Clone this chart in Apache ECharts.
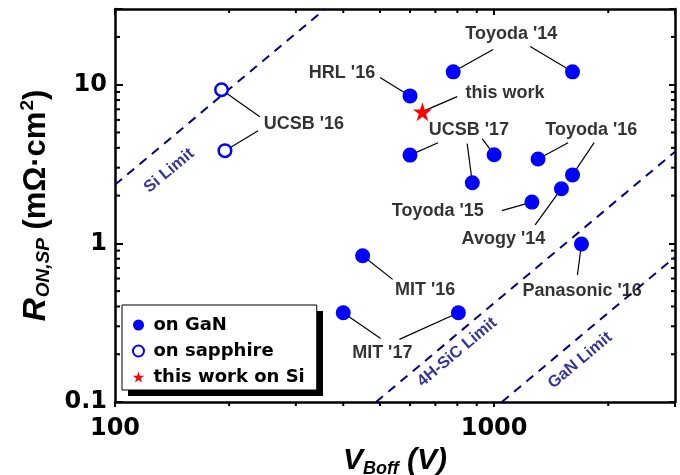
<!DOCTYPE html>
<html>
<head>
<meta charset="utf-8">
<script src="https://cdn.jsdelivr.net/npm/echarts@6/dist/echarts.min.js"></script>
<style>
  html, body { margin: 0; padding: 0; background: #fff; }
  #chart { width: 680px; height: 475px; }
</style>
</head>
<body>
<div id="chart"></div>
<script>
// points on GaN: HRL'16, Toyoda'14 x2, UCSB'17 x3, Toyoda'16 x2, Avogy'14, Toyoda'15, Panasonic'16, MIT'16, MIT'17 x2
const ganV = [600, 780, 1610, 600, 1000, 876, 1306, 1610, 1505, 1258, 1700, 450, 400, 805];
const ganR = [8.5, 12.05, 12.05, 3.6, 3.62, 2.41, 3.4, 2.7, 2.21, 1.82, 0.99, 0.836, 0.365, 0.365];
// UCSB'16 on sapphire
const sapV = [191, 195];
const sapR = [9.3, 3.84];
// this work
const workV = [647];
const workR = [6.76];

// limit lines (end points)
const siV = [100, 358], siR = [2.34, 30];
const sicV = [488, 3000], sicR = [0.1, 3.78];
const ganLimV = [1048, 3000], ganLimR = [0.1, 0.82];
const limitText = ['Si Limit', '4H-SiC Limit', 'GaN Limit'];
const limitLabelV = [139, 799, 1686];
const limitLabelR = [2.87, 0.206, 0.183];

// text labels
const labelText = ["HRL '16", "UCSB '16", "Toyoda '14", "this work", "UCSB '17", "Toyoda '16", "Toyoda '15", "Avogy '14", "MIT '16", "Panasonic '16", "MIT '17"];
const labelV = [397, 315, 1110, 1068, 858, 1805, 710, 1058, 658, 1707, 507];
const labelR = [11.9, 5.64, 20.9, 8.88, 5.21, 5.21, 1.6, 1.07, 0.51, 0.5, 0.203];

// leader lines: start point (series, index) -> end near label
const leadFrom = [['gan', 0], ['sap', 0], ['sap', 1], ['gan', 1], ['gan', 2], ['work', 0], ['gan', 3], ['gan', 5], ['gan', 4], ['gan', 6], ['gan', 7], ['gan', 9], ['gan', 8], ['gan', 10], ['gan', 11], ['gan', 12], ['gan', 13]];
const leadEndV = [500, 241, 238.5, 994, 1245, 799, 711.5, 849, 930, 1567, 1836, 1048, 1283, 1659, 540, 502, 562.5];
const leadEndR = [11.09, 6.29, 5.13, 16.66, 17.4, 8.41, 4.31, 4.25, 4.57, 4.31, 4.31, 1.609, 1.307, 0.632, 0.593, 0.2515, 0.248];

// axes
const xMin = 100, xMax = 3000, yMin = 0.1, yMax = 30;
const xTickVals = [100, 1000], xTickLabels = ['100', '1000'];
const yTickVals = [0.1, 1, 10], yTickLabels = ['0.1', '1', '10'];
const xMinor = [200, 300, 400, 500, 600, 700, 800, 900, 2000];
const yMinor = [0.2, 0.3, 0.4, 0.5, 0.6, 0.7, 0.8, 0.9, 2, 3, 4, 5, 6, 7, 8, 9, 20];

const pts = { gan: [ganV, ganR], sap: [sapV, sapR], work: [workV, workR] };
const zip = (a, b) => a.map((v, i) => [v, b[i]]);
const pickLabel = (vals, labels) => v => {
  const i = vals.findIndex(t => Math.abs(v / t - 1) < 1e-6);
  return i >= 0 ? labels[i] : '';
};

const ARIAL = 'Liberation Sans, Arial, sans-serif';
const DEJAVU = 'DejaVu Sans, sans-serif';
const BLUE = '#0000ff';
const NAVY = '#000080';
const STAR = 'path://M50,0 L61.23,34.55 L97.55,34.55 L68.17,55.9 L79.39,90.45 L50,69.1 L20.61,90.45 L31.83,55.9 L2.45,34.55 L38.77,34.55 Z';

const myChart = echarts.init(document.getElementById('chart'));

const limitLine = (v, r) => ({
  type: 'line',
  data: zip(v, r),
  symbol: 'none',
  silent: true,
  z: 1,
  lineStyle: { color: NAVY, width: 2, type: [9, 7] }
});

const leaders = leadFrom.map((f, i) => {
  const s = pts[f[0]];
  return {
    type: 'line',
    data: [[s[0][f[1]], s[1][f[1]]], [leadEndV[i], leadEndR[i]]],
    symbol: 'none',
    silent: true,
    z: 2,
    lineStyle: { color: '#000', width: 1.2 }
  };
});

const tickSeries = (vals, isX) => ({
  type: 'custom',
  silent: true,
  z: 10,
  data: vals.map(v => isX ? [v, yMin] : [xMin, v]),
  renderItem: (params, api) => {
    const a = isX ? api.coord([api.value(0), yMin]) : api.coord([xMin, api.value(1)]);
    const b = isX ? api.coord([api.value(0), yMax]) : api.coord([xMax, api.value(1)]);
    const st = { stroke: '#000', lineWidth: 2 };
    return {
      type: 'group',
      children: isX ? [
        { type: 'line', shape: { x1: a[0], y1: a[1], x2: a[0], y2: a[1] + 4 }, style: st },
        { type: 'line', shape: { x1: b[0], y1: b[1], x2: b[0], y2: b[1] + 4 }, style: st }
      ] : [
        { type: 'line', shape: { x1: a[0], y1: a[1], x2: a[0] + 5, y2: a[1] }, style: st },
        { type: 'line', shape: { x1: b[0], y1: b[1], x2: b[0] - 4, y2: b[1] }, style: st }
      ]
    };
  }
});

let option = {
  animation: false,
  textStyle: { fontFamily: ARIAL },
  grid: { left: 115, right: 5, top: 9, bottom: 73, outerBoundsMode: 'none' },
  // drop shadow behind the legend box
  graphic: [{
    type: 'rect',
    z: 3,
    silent: true,
    shape: { x: 128, y: 311, width: 195, height: 85 },
    style: { fill: '#000' }
  }],
  legend: {
    data: [
      { name: 'on GaN' },
      { name: 'on sapphire', itemStyle: { color: '#fff', borderColor: BLUE, borderWidth: 2 } },
      { name: 'this work on Si' }
    ],
    orient: 'vertical',
    left: 122,
    top: 305,
    z: 4,
    itemWidth: 20,
    itemHeight: 11,
    itemGap: 8,
    padding: [11, 12, 4, 10],
    backgroundColor: '#fff',
    borderColor: '#000',
    borderWidth: 1,
    textStyle: { fontFamily: DEJAVU, fontWeight: 'bold', fontSize: 18, color: '#000', lineHeight: 18 }
  },
  xAxis: [{
    type: 'log',
    min: xMin,
    max: xMax,
    name: '{v|V}{s|Boff}{v| (V)}',
    nameLocation: 'middle',
    nameGap: 37,
    nameTextStyle: {
      rich: {
        v: { fontFamily: ARIAL, fontSize: 30, fontWeight: 'bold', fontStyle: 'italic', color: '#000' },
        s: { fontFamily: ARIAL, fontSize: 18, fontWeight: 'bold', fontStyle: 'italic', color: '#000', padding: [16, 0, 0, 0] }
      }
    },
    axisLine: { lineStyle: { color: '#000', width: 2.5 } },
    axisTick: { inside: false, length: 5, lineStyle: { width: 2 } },
    axisLabel: {
      margin: 15,
      fontFamily: DEJAVU, fontWeight: 'bold', fontSize: 24, color: '#000',
      formatter: pickLabel(xTickVals, xTickLabels)
    },
    splitLine: { show: false }
  }, {
    type: 'log',
    position: 'top',
    min: xMin,
    max: xMax,
    axisLine: { lineStyle: { color: '#000', width: 2.5 } },
    axisTick: { inside: true, length: 6, lineStyle: { width: 2 } },
    axisLabel: { show: false },
    splitLine: { show: false }
  }],
  yAxis: [{
    type: 'log',
    min: yMin,
    max: yMax,
    name: '{r|R}{rs|ON,SP}{u| (mΩ·cm}{sup|2}{u|)}',
    nameLocation: 'middle',
    nameRotate: 90,
    nameGap: 56,
    nameTextStyle: {
      rich: {
        r: { fontFamily: ARIAL, fontSize: 32, fontWeight: 'bold', fontStyle: 'italic', color: '#000' },
        rs: { fontFamily: ARIAL, fontSize: 19, fontWeight: 'bold', fontStyle: 'italic', color: '#000', padding: [15, 0, 0, 1] },
        u: { fontFamily: ARIAL, fontSize: 31, fontWeight: 'bold', color: '#000' },
        sup: { fontFamily: ARIAL, fontSize: 19, fontWeight: 'bold', color: '#000', padding: [0, 0, 17, 1] }
      }
    },
    axisLine: { lineStyle: { color: '#000', width: 2.5 } },
    axisTick: { inside: true, length: 8, lineStyle: { width: 2 } },
    axisLabel: {
      margin: 8,
      fontFamily: DEJAVU, fontWeight: 'bold', fontSize: 24, color: '#000',
      formatter: pickLabel(yTickVals, yTickLabels)
    },
    splitLine: { show: false }
  }, {
    type: 'log',
    position: 'right',
    min: yMin,
    max: yMax,
    axisLine: { lineStyle: { color: '#000', width: 2.5 } },
    axisTick: { inside: true, length: 6, lineStyle: { width: 2 } },
    axisLabel: { show: false },
    splitLine: { show: false }
  }],
  series: [
    limitLine(siV, siR),
    limitLine(sicV, sicR),
    limitLine(ganLimV, ganLimR),
    ...leaders,
    tickSeries(xMinor, true),
    tickSeries(yMinor, false),
    {
      name: 'on GaN',
      type: 'scatter',
      data: zip(ganV, ganR),
      symbol: 'circle',
      symbolSize: 15,
      z: 5,
      itemStyle: { color: BLUE, opacity: 1 }
    },
    {
      name: 'on sapphire',
      type: 'scatter',
      data: zip(sapV, sapR),
      symbol: 'circle',
      symbolSize: 12.5,
      z: 5,
      itemStyle: { color: '#fff', borderColor: BLUE, borderWidth: 2.5, opacity: 1 }
    },
    {
      name: 'this work on Si',
      type: 'scatter',
      data: zip(workV, workR),
      symbol: STAR,
      symbolSize: 19,
      z: 6,
      itemStyle: { color: '#ff0000', opacity: 1 }
    },
    {
      type: 'scatter',
      silent: true,
      symbolSize: 1,
      z: 7,
      itemStyle: { color: 'rgba(0,0,0,0)' },
      data: labelText.map((t, i) => ({ name: t, value: [labelV[i], labelR[i]] })),
      label: {
        show: true, position: 'inside', formatter: '{b}',
        fontFamily: ARIAL, fontWeight: 'bold', fontSize: 18, color: '#000'
      }
    },
    {
      type: 'scatter',
      silent: true,
      symbolSize: 1,
      z: 7,
      itemStyle: { color: 'rgba(0,0,0,0)' },
      data: limitText.map((t, i) => ({ name: t, value: [limitLabelV[i], limitLabelR[i]] })),
      label: {
        show: true, position: 'inside', formatter: '{b}', rotate: 40,
        fontFamily: ARIAL, fontWeight: 'bold', fontSize: 16.5, color: NAVY
      }
    }
  ]
};
myChart.setOption(option);
</script>
</body>
</html>
